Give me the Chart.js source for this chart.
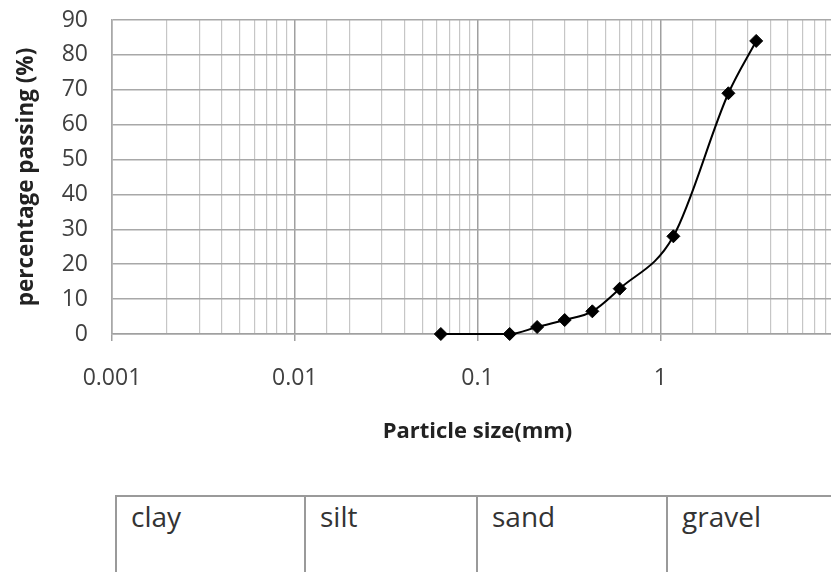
<!DOCTYPE html>
<html>
<head>
<meta charset="utf-8">
<script src="https://cdn.jsdelivr.net/npm/chart.js@4.4.1/dist/chart.umd.min.js"></script>
<style>
  html, body { margin: 0; padding: 0; background: #fff; overflow: hidden; }
  #wrap { position: relative; width: 903px; height: 572px; }
  #grading { position: absolute; left: 0; top: 0; }
  table.soil {
    position: absolute; left: 115px; top: 495px;
    border-collapse: collapse; table-layout: fixed;
    font-family: "Open Sans", sans-serif; font-size: 28px; color: #333;
  }
  table.soil td {
    border: 2px solid #9a9a9a; height: 110px;
    vertical-align: top; padding: 0 14px; box-sizing: border-box;
  }
</style>
</head>
<body>
<div id="wrap">
  <canvas id="grading" width="903" height="460"></canvas>
  <table class="soil"><tr id="soil-row"></tr></table>
</div>
<script>
// Sieve analysis results
const sieveSizes = [0.063, 0.15, 0.212, 0.3, 0.425, 0.6, 1.18, 2.36, 3.35];
const percentPassing = [0, 0, 2, 4, 6.5, 13, 28, 69, 84];

// Axis ranges
const sizeMin = 0.001;
const sizeMax = 10;
const passingMax = 90;
const passingStep = 10;

// Soil classification strip under the chart
const soilClasses = ["clay", "silt", "sand", "gravel"];
const soilColWidths = [189, 172, 190, 190];

function isDecade(v) {
  const e = Math.log10(v);
  return Math.abs(e - Math.round(e)) < 1e-6;
}

// Bandeau des classes
const row = document.getElementById("soil-row");
soilClasses.forEach((name, i) => {
  const td = document.createElement("td");
  td.style.width = soilColWidths[i] + "px";
  td.textContent = name;
  row.appendChild(td);
});

const points = sieveSizes.map((s, i) => ({ x: s, y: percentPassing[i] }));

const ctx = document.getElementById("grading").getContext("2d");
new Chart(ctx, {
  type: "line",
  data: {
    datasets: [
      {
        data: points,
        borderColor: "#000",
        borderWidth: 2,
        cubicInterpolationMode: "monotone",
        pointStyle: "rectRot",
        pointRadius: 6.5,
        pointBackgroundColor: "#000",
        pointBorderColor: "#000",
        pointBorderWidth: 1,
        fill: false,
        clip: false,
      },
    ],
  },
  options: {
    responsive: false,
    animation: false,
    // la zone de tracé dépasse volontairement à droite (décade 10 hors cadre)
    layout: { padding: { top: 20, right: 60, bottom: 0, left: 0 } },
    plugins: {
      legend: { display: false },
      tooltip: { enabled: false },
    },
    scales: {
      x: {
        type: "logarithmic",
        min: sizeMin,
        max: sizeMax,
        afterFit: (scale) => { scale.height = 126; },
        border: { color: "#a0a0a0", width: 1.5 },
        grid: {
          color: (c) => (isDecade(c.tick.value) ? "#a0a0a0" : "#c6c6c6"),
          lineWidth: (c) => (isDecade(c.tick.value) ? 1.5 : 1.2),
          tickColor: (c) => (isDecade(c.tick.value) ? "#a0a0a0" : "rgba(0,0,0,0)"),
          tickLength: 7,
        },
        ticks: {
          autoSkip: false,
          maxRotation: 0,
          padding: 24,
          color: "#404040",
          font: { family: "Open Sans", size: 23 },
          callback: (v) => (isDecade(v) ? String(Number(v.toPrecision(1))) : ""),
        },
        title: {
          display: true,
          text: "Particle size(mm)",
          color: "#222",
          font: { family: "Open Sans", size: 22, weight: "bold" },
          padding: { top: 0, bottom: 15 },
        },
      },
      y: {
        min: 0,
        max: passingMax,
        afterFit: (scale) => { scale.width = 112; },
        border: { color: "#a8a8a8", width: 1.5 },
        grid: {
          color: "#a8a8a8",
          lineWidth: 1.5,
          tickColor: "rgba(0,0,0,0)",
          tickLength: 20,
        },
        ticks: {
          stepSize: passingStep,
          padding: 4,
          color: "#404040",
          font: { family: "Open Sans", size: 23 },
        },
        title: {
          display: true,
          text: "percentage passing (%)",
          color: "#222",
          font: { family: "Open Sans", size: 22.5, weight: "bold" },
          padding: { top: 13, bottom: 0 },
        },
      },
    },
  },
});
</script>
</body>
</html>
